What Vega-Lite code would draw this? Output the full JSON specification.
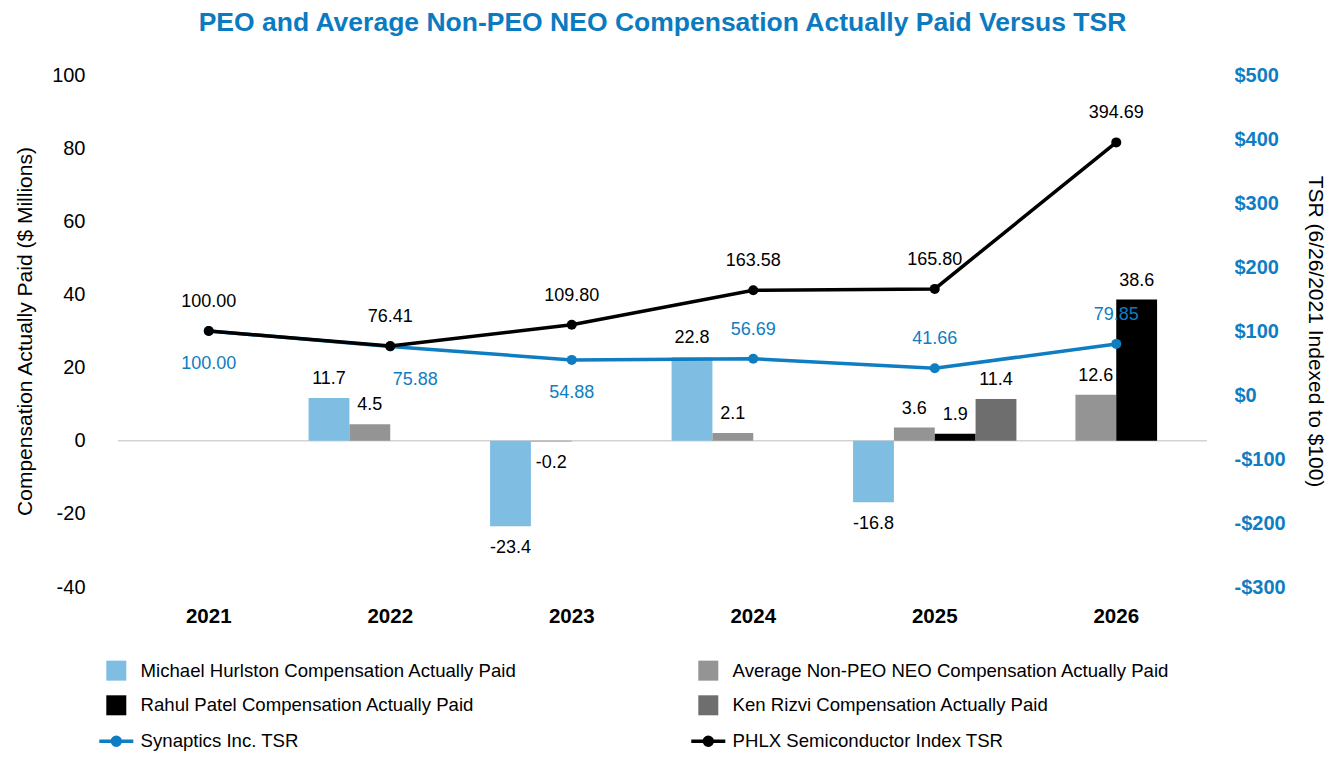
{
  "$schema": "https://vega.github.io/schema/vega-lite/v6.json",
  "width": 1089,
  "height": 512,
  "autosize": {"type": "none"},
  "padding": {"left": 118, "top": 75, "right": 137, "bottom": 181},
  "background": "#ffffff",
  "config": {"view": {"stroke": null}, "font": "Liberation Sans"},
  "title": {
    "text": "PEO and Average Non-PEO NEO Compensation Actually Paid Versus TSR",
    "color": "#0B7BC1",
    "fontSize": 26.5,
    "fontWeight": "bold",
    "anchor": "middle",
    "offset": 29
  },
  "datasets": {
    "comp": [
      {"year": "2022", "series": "Michael Hurlston Compensation Actually Paid", "value": 11.7},
      {"year": "2022", "series": "Average Non-PEO NEO Compensation Actually Paid", "value": 4.5},
      {"year": "2023", "series": "Michael Hurlston Compensation Actually Paid", "value": -23.4},
      {"year": "2023", "series": "Average Non-PEO NEO Compensation Actually Paid", "value": -0.2},
      {"year": "2024", "series": "Michael Hurlston Compensation Actually Paid", "value": 22.8},
      {"year": "2024", "series": "Average Non-PEO NEO Compensation Actually Paid", "value": 2.1},
      {"year": "2025", "series": "Michael Hurlston Compensation Actually Paid", "value": -16.8},
      {"year": "2025", "series": "Average Non-PEO NEO Compensation Actually Paid", "value": 3.6},
      {"year": "2025", "series": "Rahul Patel Compensation Actually Paid", "value": 1.9},
      {"year": "2025", "series": "Ken Rizvi Compensation Actually Paid", "value": 11.4},
      {"year": "2026", "series": "Average Non-PEO NEO Compensation Actually Paid", "value": 12.6},
      {"year": "2026", "series": "Rahul Patel Compensation Actually Paid", "value": 38.6}
    ],
    "tsr": [
      {"year": "2021", "series": "Synaptics Inc. TSR", "value": 100.00},
      {"year": "2022", "series": "Synaptics Inc. TSR", "value": 75.88},
      {"year": "2023", "series": "Synaptics Inc. TSR", "value": 54.88},
      {"year": "2024", "series": "Synaptics Inc. TSR", "value": 56.69},
      {"year": "2025", "series": "Synaptics Inc. TSR", "value": 41.66},
      {"year": "2026", "series": "Synaptics Inc. TSR", "value": 79.85},
      {"year": "2021", "series": "PHLX Semiconductor Index TSR", "value": 100.00},
      {"year": "2022", "series": "PHLX Semiconductor Index TSR", "value": 76.41},
      {"year": "2023", "series": "PHLX Semiconductor Index TSR", "value": 109.80},
      {"year": "2024", "series": "PHLX Semiconductor Index TSR", "value": 163.58},
      {"year": "2025", "series": "PHLX Semiconductor Index TSR", "value": 165.80},
      {"year": "2026", "series": "PHLX Semiconductor Index TSR", "value": 394.69}
    ]
  },
  "layer": [
    {
      "data": {"name": "comp"},
      "layer": [
        {
          "data": {"values": [{}]},
          "mark": {"type": "rule", "color": "#d3d3d3", "strokeWidth": 1.5},
          "encoding": {"y": {"datum": 0, "type": "quantitative"}}
        },
        {
          "mark": {"type": "bar"},
          "encoding": {
            "x": {
              "field": "year", "type": "nominal",
              "scale": {"domain": ["2021", "2022", "2023", "2024", "2025", "2026"], "paddingInner": 0.1, "paddingOuter": 0.05},
              "axis": {"title": null, "labelAngle": 0, "labelFontSize": 20.5, "labelFontWeight": "bold", "labelColor": "#000000", "ticks": false, "domain": false, "labelPadding": 19}
            },
            "xOffset": {
              "field": "series",
              "scale": {"domain": ["Michael Hurlston Compensation Actually Paid", "Average Non-PEO NEO Compensation Actually Paid", "Rahul Patel Compensation Actually Paid", "Ken Rizvi Compensation Actually Paid"], "paddingInner": 0, "paddingOuter": 0}
            },
            "y": {
              "field": "value", "type": "quantitative",
              "scale": {"domain": [-40, 100], "nice": false, "zero": false},
              "axis": {"title": "Compensation Actually Paid ($ Millions)", "titleFontSize": 21, "titleFontWeight": "normal", "titleColor": "#000000", "labelFontSize": 20, "labelColor": "#000000", "ticks": false, "domain": false, "grid": false, "values": [-40, -20, 0, 20, 40, 60, 80, 100], "labelExpr": "'' + datum.value", "labelPadding": 33, "titlePadding": 16}
            },
            "color": {
              "field": "series", "type": "nominal",
              "scale": {
                "domain": ["Michael Hurlston Compensation Actually Paid", "Rahul Patel Compensation Actually Paid", "Synaptics Inc. TSR", "Average Non-PEO NEO Compensation Actually Paid", "Ken Rizvi Compensation Actually Paid", "PHLX Semiconductor Index TSR"],
                "range": ["#80BDE3", "#000000", "#0F7DC2", "#949494", "#6E6E6E", "#000000"]
              },
              "legend": {
                "title": null,
                "orient": "none",
                "legendX": -11,
                "legendY": 586,
                "columns": 2,
                "columnPadding": 167,
                "rowPadding": 14,
                "padding": 0,
                "symbolSize": 400,
                "labelFontSize": 18.6,
                "labelColor": "#000000",
                "labelOffset": 15,
                "labelLimit": 600,
                "encode": {
                  "symbols": {
                    "update": {
                      "shape": {"signal": "test(/TSR$/, datum.value) ? 'M-1.7,0L1.7,0M-0.4,0A0.4,0.4 0 1 1 0.4,0A0.4,0.4 0 1 1 -0.4,0Z' : 'square'"},
                      "fill": {"scale": "color", "field": "value"},
                      "stroke": {"scale": "color", "field": "value"},
                      "strokeWidth": {"signal": "test(/TSR$/, datum.value) ? 3.5 : 0"},
                      "opacity": {"value": 1},
                      "fillOpacity": {"value": 1},
                      "strokeOpacity": {"value": 1}
                    }
                  }
                }
              }
            }
          }
        },
        {
          "transform": [{"filter": "datum.value >= 0"}],
          "mark": {"type": "text", "baseline": "middle", "dy": -19, "fontSize": 18, "color": "#000000"},
          "encoding": {
            "x": {"field": "year", "type": "nominal"},
            "xOffset": {"field": "series"},
            "y": {"field": "value", "type": "quantitative"},
            "text": {"field": "value", "type": "nominal"}
          }
        },
        {
          "transform": [{"filter": "datum.value < 0"}],
          "mark": {"type": "text", "baseline": "middle", "dy": 22, "fontSize": 18, "color": "#000000"},
          "encoding": {
            "x": {"field": "year", "type": "nominal"},
            "xOffset": {"field": "series"},
            "y": {"field": "value", "type": "quantitative"},
            "text": {"field": "value", "type": "nominal"}
          }
        }
      ]
    },
    {
      "data": {"name": "tsr"},
      "layer": [
        {
          "transform": [{"filter": "datum.series == 'Synaptics Inc. TSR'"}],
          "mark": {"type": "line", "strokeWidth": 3.5, "point": {"size": 100, "filled": true, "opacity": 1}},
          "encoding": {
            "x": {"field": "year", "type": "nominal"},
            "y": {
              "field": "value", "type": "quantitative",
              "scale": {"domain": [-300, 500], "nice": false, "zero": false},
              "axis": {"orient": "right", "title": "TSR (6/26/2021 Indexed to $100)", "titleFontSize": 21, "titleFontWeight": "normal", "titleColor": "#000000", "labelFontSize": 20, "labelFontWeight": "bold", "labelColor": "#0F7DC2", "ticks": false, "domain": false, "grid": false, "values": [-300, -200, -100, 0, 100, 200, 300, 400, 500], "labelExpr": "datum.value < 0 ? '-$' + abs(datum.value) : '$' + datum.value", "labelPadding": 27, "titlePadding": 19}
            },
            "color": {"field": "series", "type": "nominal"}
          }
        },
        {
          "transform": [{"filter": "datum.series == 'PHLX Semiconductor Index TSR'"}],
          "mark": {"type": "line", "strokeWidth": 3.5, "point": {"size": 100, "filled": true, "opacity": 1}},
          "encoding": {
            "x": {"field": "year", "type": "nominal"},
            "y": {"field": "value", "type": "quantitative"},
            "color": {"field": "series", "type": "nominal"}
          }
        },
        {
          "transform": [{"filter": "datum.series == 'PHLX Semiconductor Index TSR'"}],
          "mark": {"type": "text", "baseline": "middle", "dy": -29, "fontSize": 18, "color": "#000000"},
          "encoding": {
            "x": {"field": "year", "type": "nominal"},
            "y": {"field": "value", "type": "quantitative"},
            "text": {"field": "value", "type": "quantitative", "format": ".2f"}
          }
        },
        {
          "transform": [{"filter": "datum.series == 'Synaptics Inc. TSR' && (datum.year == '2021' || datum.year == '2023')"}],
          "mark": {"type": "text", "baseline": "middle", "dy": 33, "fontSize": 18, "color": "#0F7DC2"},
          "encoding": {
            "x": {"field": "year", "type": "nominal"},
            "y": {"field": "value", "type": "quantitative"},
            "text": {"field": "value", "type": "quantitative", "format": ".2f"}
          }
        },
        {
          "transform": [{"filter": "datum.series == 'Synaptics Inc. TSR' && datum.year == '2022'"}],
          "mark": {"type": "text", "baseline": "middle", "dy": 34, "dx": 25, "fontSize": 18, "color": "#0F7DC2"},
          "encoding": {
            "x": {"field": "year", "type": "nominal"},
            "y": {"field": "value", "type": "quantitative"},
            "text": {"field": "value", "type": "quantitative", "format": ".2f"}
          }
        },
        {
          "transform": [{"filter": "datum.series == 'Synaptics Inc. TSR' && datum.year >= '2024'"}],
          "mark": {"type": "text", "baseline": "middle", "dy": -29, "fontSize": 18, "color": "#0F7DC2"},
          "encoding": {
            "x": {"field": "year", "type": "nominal"},
            "y": {"field": "value", "type": "quantitative"},
            "text": {"field": "value", "type": "quantitative", "format": ".2f"}
          }
        }
      ]
    }
  ],
  "resolve": {"scale": {"y": "independent"}}
}
